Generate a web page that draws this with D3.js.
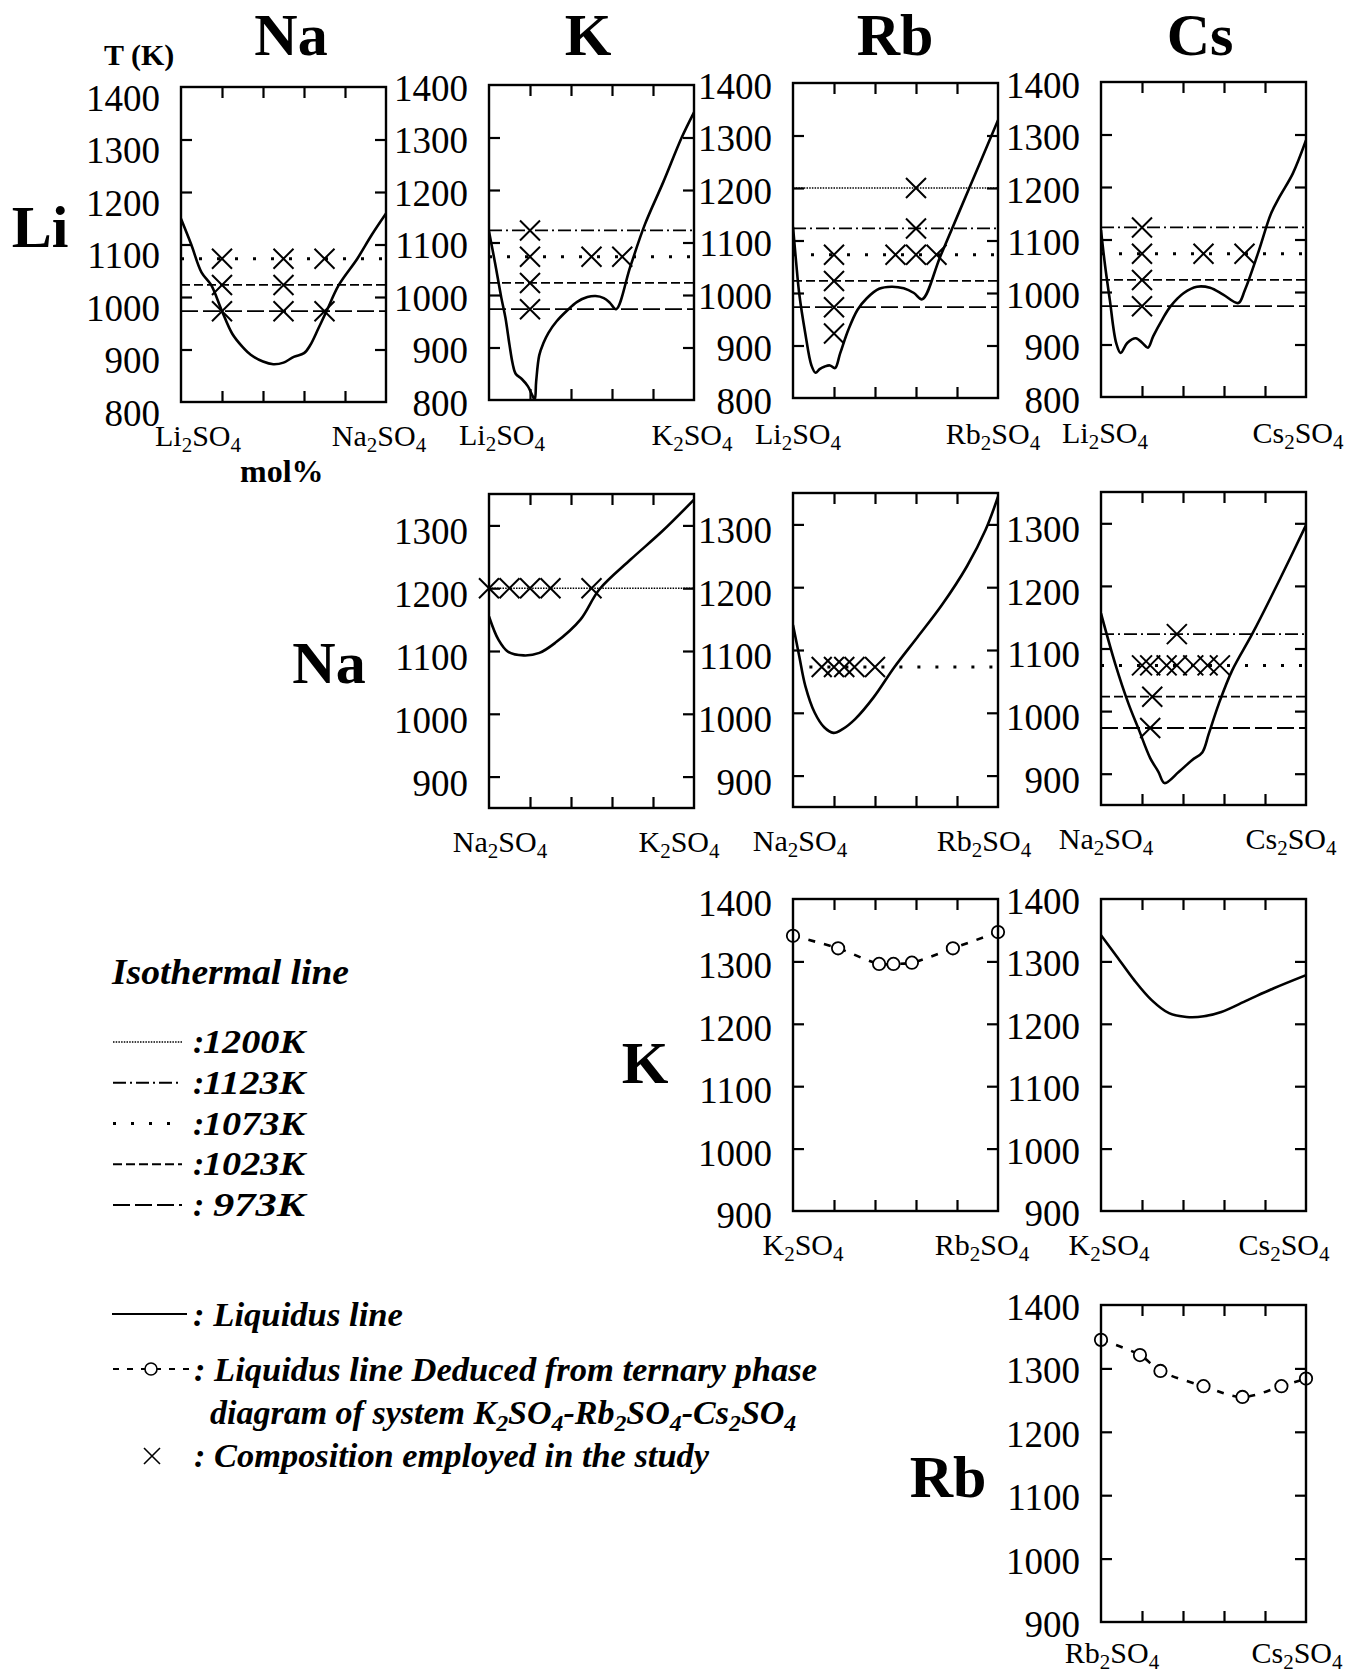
<!DOCTYPE html>
<html>
<head>
<meta charset="utf-8">
<script src="https://d3js.org/d3.v7.min.js"></script>
<style>
    body { margin: 0; background: #fff; }
    svg text { font-family: "Liberation Serif", "Times New Roman", serif; fill: #000; }
</style>
</head>
<body>
<svg width="1358" height="1675"></svg>
<script>
    // ---- data (mol% of the second salt, temperature in K) ----
    var pctTicks = [20, 40, 60, 80];
    var yLabelsLi = [800, 900, 1000, 1100, 1200, 1300, 1400];
    var yLabelsNa = [900, 1000, 1100, 1200, 1300];
    var yLabelsK = [900, 1000, 1100, 1200, 1300, 1400];

    var isoTemps = [1200, 1123, 1073, 1023, 973];
    var isoNames = ["1200K", "1123K", "1073K", "1023K", "973K"];

    var liqLiNa = [[0, 1149], [5, 1100], [10, 1047], [14.7, 1023], [20, 973], [25, 930], [30, 905], [34, 890], [40, 877],
        [45, 872], [50, 875], [55, 886], [60, 893], [63, 908], [67, 940], [71, 973], [77, 1023], [86, 1073], [93, 1118], [100, 1159]];
    var liqLiK = [[0, 1121], [3, 1060], [6, 995], [8, 957], [10, 905], [11.5, 870], [13, 850], [16, 840], [19, 826], [21, 810],
        [22.3, 801], [23, 835], [24.5, 885], [26.5, 908], [29, 928], [33, 950], [38, 970], [43, 987], [48, 996], [52, 998],
        [56, 994], [59, 985], [62, 973], [69, 1055], [76, 1134], [85, 1215], [94, 1300], [100, 1348]];
    var liqLiRb = [[0, 1126], [1.5, 1060], [3, 1000], [6, 923], [9, 862], [11, 848], [13, 855], [15.5, 860], [18, 862],
        [20.5, 857], [23, 885], [27, 930], [31.5, 968], [36, 990], [42, 1008], [48, 1012], [54, 1009], [59, 1000], [63, 988],
        [72, 1071], [86, 1200], [100, 1329]];
    var liqLiCs = [[0, 1118], [2, 1050], [4.3, 985], [7.4, 903], [9.6, 884], [12.8, 903], [17, 912], [20.2, 903], [22.9, 894],
        [25.5, 916], [29.8, 947], [34, 973], [40.4, 998], [46.8, 1010], [53.2, 1008], [59.6, 995], [67, 979], [70.2, 1004],
        [76.6, 1074], [83, 1150], [87.2, 1182], [93.6, 1226], [100, 1289]];
    var liqNaK = [[0, 1155], [4.6, 1118], [9.2, 1099], [16.9, 1093], [24.6, 1097], [32.3, 1113], [44.6, 1150], [53.8, 1198],
        [69.2, 1246], [84.6, 1291], [100, 1341]];
    var liqNaRb = [[0, 1140], [3, 1091], [6, 1043], [10.6, 1000], [15.2, 977], [19.7, 968], [24.2, 974], [30.3, 990],
        [39.4, 1025], [49.5, 1073], [60.6, 1120], [72.7, 1172], [84.8, 1233], [93.9, 1291], [100, 1344]];
    var liqNaCs = [[0, 1156], [6.9, 1076], [13.4, 1012], [18.5, 970], [24, 925], [28, 903], [31, 885], [38, 903], [44.5, 922],
        [49.4, 934], [52.6, 964], [57.5, 1012], [64, 1065], [73.9, 1124], [87, 1209], [100, 1297]];
    var liqKCs = [[0, 1342], [7.7, 1308], [16.2, 1270], [24.7, 1238], [33.2, 1217], [41.7, 1211], [50.2, 1212], [58.7, 1219],
        [71.5, 1238], [84.3, 1257], [100, 1278]];

    var ternKRb = [[0, 1341], [22, 1321], [42, 1296], [49, 1296], [58, 1298], [78, 1321], [100, 1347]];
    var ternRbCs = [[0, 1345], [19, 1321], [29, 1296], [50, 1272], [69, 1255], [88, 1272], [100, 1284]];

    var crossLiNa = [[20, 1073], [20, 1023], [20, 973], [50, 1073], [50, 1023], [50, 973], [70, 1073], [70, 973]];
    var crossLiK = [[20, 1123], [20, 1073], [20, 1023], [20, 973], [50, 1073], [65, 1073]];
    var crossLiRb = [[20, 1073], [20, 1023], [20, 973], [20, 923], [50, 1073], [60, 1200], [60, 1123], [60, 1073], [70, 1073]];
    var crossLiCs = [[20, 1123], [20, 1073], [20, 1023], [20, 973], [50, 1073], [70, 1073]];
    var crossNaK = [[0, 1200], [10, 1200], [20, 1200], [30, 1200], [50, 1200]];
    var crossNaRb = [[14, 1073], [20, 1073], [25, 1073], [30, 1073], [40, 1073]];
    var crossNaCs = [[37, 1123], [20, 1073], [24, 1073], [32, 1073], [37, 1073], [45, 1073], [52, 1073], [58, 1073],
        [25, 1023], [24, 973]];

    // ---- styles ----
    var isoStyle = {
        1200: { dash: "1.5,1.2", w: 1.6 },
        1123: { dash: "13,4,2,4", w: 1.8 },
        1073: { dash: "3,15", w: 3 },
        1023: { dash: "9,4", w: 1.8 },
        973: { dash: "17,5", w: 1.8 }
    };

    var W = 205;
    var panels = [
        { x: 181, y: 87, h: 315, dom: [800, 1400], labs: yLabelsLi, labDy: 11, xl: 44, left: "Li2SO4", right: "Na2SO4", lx: 17, rx: -7, liq: liqLiNa, iso: [1073, 1023, 973], cross: crossLiNa },
        { x: 489, y: 85, h: 315, dom: [800, 1400], labs: yLabelsLi, labDy: 3, xl: 45, left: "Li2SO4", right: "K2SO4", lx: 13, rx: -2, liq: liqLiK, iso: [1123, 1073, 1023, 973], cross: crossLiK },
        { x: 793, y: 83, h: 315, dom: [800, 1400], labs: yLabelsLi, labDy: 3, xl: 46, left: "Li2SO4", right: "Rb2SO4", lx: 5, rx: -5, liq: liqLiRb, iso: [1200, 1123, 1073, 1023, 973], cross: crossLiRb },
        { x: 1101, y: 82, h: 315, dom: [800, 1400], labs: yLabelsLi, labDy: 3, xl: 46, left: "Li2SO4", right: "Cs2SO4", lx: 4, rx: -8, liq: liqLiCs, iso: [1123, 1073, 1023, 973], cross: crossLiCs },
        { x: 489, y: 494, h: 314, dom: [850, 1350], labs: yLabelsNa, labDy: 6, xl: 44, left: "Na2SO4", right: "K2SO4", lx: 11, rx: -15, liq: liqNaK, iso: [1200], cross: crossNaK },
        { x: 793, y: 493, h: 314, dom: [850, 1350], labs: yLabelsNa, labDy: 6, xl: 44, left: "Na2SO4", right: "Rb2SO4", lx: 7, rx: -14, liq: liqNaRb, iso: [1073], isoFrom: 8, cross: crossNaRb },
        { x: 1101, y: 492, h: 313, dom: [850, 1350], labs: yLabelsNa, labDy: 6, xl: 44, left: "Na2SO4", right: "Cs2SO4", lx: 5, rx: -15, liq: liqNaCs, iso: [1123, 1073, 1023, 973], cross: crossNaCs },
        { x: 793, y: 899, h: 312, dom: [900, 1400], labs: yLabelsK, labDy: 4, xl: 44, left: "K2SO4", right: "Rb2SO4", lx: 10, rx: -16, tern: ternKRb },
        { x: 1101, y: 899, h: 312, dom: [900, 1400], labs: yLabelsK, labDy: 2, xl: 44, left: "K2SO4", right: "Cs2SO4", lx: 8, rx: -22, liq: liqKCs },
        { x: 1101, y: 1305, h: 317, dom: [900, 1400], labs: yLabelsK, labDy: 2, xl: 41, left: "Rb2SO4", right: "Cs2SO4", lx: 11, rx: -9, tern: ternRbCs }
    ];

    var svg = d3.select("svg");

    function crossPath(h) {
        return "M" + (-h) + "," + (-h) + "L" + h + "," + h + "M" + (-h) + "," + h + "L" + h + "," + (-h);
    }

    // text with numeric subscripts (K2SO4 -> K₂SO₄)
    function chemText(t, s, size) {
        var parts = s.match(/\D+|\d+/g);
        var low = false;
        var off = size * 0.2;
        parts.forEach(function (p) {
            var ts = t.append("tspan").text(p);
            if (/^\d+$/.test(p)) {
                ts.attr("font-size", size * 0.7).attr("dy", low ? 0 : off);
                low = true;
            } else {
                ts.attr("dy", low ? -off : 0);
                low = false;
            }
        });
        return t;
    }

    panels.forEach(function (p, i) {
        var g = svg.append("g").attr("transform", "translate(" + p.x + "," + p.y + ")");
        var x = d3.scaleLinear().domain([0, 100]).range([0, W]);
        var y = d3.scaleLinear().domain(p.dom).range([p.h, 0]);
        var inner = p.labs.filter(function (v) { return v > p.dom[0] && v < p.dom[1]; });

        g.append("clipPath").attr("id", "clip" + i)
            .append("rect").attr("width", W).attr("height", p.h);

        // isothermal lines
        (p.iso || []).forEach(function (t) {
            g.append("line")
                .attr("x1", x(p.isoFrom || 0)).attr("x2", x(100))
                .attr("y1", y(t)).attr("y2", y(t))
                .attr("stroke", "#000")
                .attr("stroke-width", isoStyle[t].w)
                .attr("stroke-dasharray", isoStyle[t].dash);
        });

        var line = d3.line()
            .x(function (d) { return x(d[0]); })
            .y(function (d) { return y(d[1]); })
            .curve(d3.curveCatmullRom.alpha(0.5));

        if (p.liq) {
            g.append("path").datum(p.liq)
                .attr("clip-path", "url(#clip" + i + ")")
                .attr("fill", "none")
                .attr("stroke", "#000")
                .attr("stroke-width", 2.6)
                .attr("stroke-linejoin", "round")
                .attr("d", line);
        }

        if (p.tern) {
            g.append("path").datum(p.tern)
                .attr("fill", "none")
                .attr("stroke", "#000")
                .attr("stroke-width", 2.6)
                .attr("stroke-dasharray", "7,9")
                .attr("d", line);
            g.selectAll(".tern").data(p.tern).join("circle")
                .attr("class", "tern")
                .attr("cx", function (d) { return x(d[0]); })
                .attr("cy", function (d) { return y(d[1]); })
                .attr("r", 6.2)
                .attr("fill", "#fff")
                .attr("stroke", "#000")
                .attr("stroke-width", 1.8);
        }

        if (p.cross) {
            g.selectAll(".cross").data(p.cross).join("path")
                .attr("class", "cross")
                .attr("transform", function (d) { return "translate(" + x(d[0]) + "," + y(d[1]) + ")"; })
                .attr("d", crossPath(10))
                .attr("fill", "none")
                .attr("stroke", "#000")
                .attr("stroke-width", 2);
        }

        // inward ticks on all four sides
        function ticks(sel) {
            sel.select(".domain").remove();
            sel.selectAll("line").attr("stroke-width", 2.2);
            sel.selectAll("text").remove();
        }
        g.append("g").call(d3.axisLeft(y).tickValues(inner).tickSize(-11)).call(ticks);
        g.append("g").attr("transform", "translate(" + W + ",0)")
            .call(d3.axisRight(y).tickValues(inner).tickSize(-11)).call(ticks);
        g.append("g").call(d3.axisTop(x).tickValues(pctTicks).tickSize(-11)).call(ticks);
        g.append("g").attr("transform", "translate(0," + p.h + ")")
            .call(d3.axisBottom(x).tickValues(pctTicks).tickSize(-11)).call(ticks);

        g.append("rect")
            .attr("width", W).attr("height", p.h)
            .attr("fill", "none")
            .attr("stroke", "#000")
            .attr("stroke-width", 2.4);

        // temperature labels
        g.selectAll(".ylab").data(p.labs).join("text")
            .attr("class", "ylab")
            .attr("x", -21)
            .attr("y", function (d) { return y(d) + p.labDy; })
            .attr("dy", "0.35em")
            .attr("text-anchor", "end")
            .attr("font-size", 37)
            .text(function (d) { return d; });

        // end-member labels
        chemText(g.append("text")
            .attr("x", x(0) + p.lx).attr("y", p.h + p.xl)
            .attr("text-anchor", "middle")
            .attr("font-size", 30), p.left, 30);
        chemText(g.append("text")
            .attr("x", x(100) + p.rx).attr("y", p.h + p.xl)
            .attr("text-anchor", "middle")
            .attr("font-size", 30), p.right, 30);
    });

    // column and row headers
    var big = [
        ["Na", 291, 55], ["K", 588, 55], ["Rb", 895, 55], ["Cs", 1200, 55],
        ["Li", 40, 247], ["Na", 329, 683], ["K", 645, 1083], ["Rb", 948, 1497]
    ];
    big.forEach(function (b) {
        svg.append("text")
            .attr("x", b[1]).attr("y", b[2])
            .attr("text-anchor", "middle")
            .attr("font-size", 60)
            .attr("font-weight", "bold")
            .text(b[0]);
    });

    svg.append("text").attr("x", 104).attr("y", 65)
        .attr("font-size", 30).attr("font-weight", "bold").text("T (K)");
    svg.append("text").attr("x", 240).attr("y", 482)
        .attr("font-size", 32).attr("font-weight", "bold").text("mol%");

    // ---- legend ----
    var leg = svg.append("g")
        .attr("font-weight", "bold")
        .attr("font-style", "italic");

    leg.append("text").attr("x", 112).attr("y", 984)
        .attr("font-size", 36).attr("textLength", 237).attr("lengthAdjust", "spacingAndGlyphs")
        .text("Isothermal line");

    var isoY = d3.scalePoint().domain(isoTemps).range([1042, 1205]);
    isoTemps.forEach(function (t, i) {
        var short = isoNames[i].length < 5;
        leg.append("line")
            .attr("x1", 113).attr("x2", 182)
            .attr("y1", isoY(t)).attr("y2", isoY(t))
            .attr("stroke", "#000")
            .attr("stroke-width", isoStyle[t].w)
            .attr("stroke-dasharray", isoStyle[t].dash);
        leg.append("text").attr("x", 193).attr("y", isoY(t) + 11)
            .attr("font-size", 34).text(":");
        leg.append("text").attr("x", short ? 213 : 203).attr("y", isoY(t) + 11)
            .attr("font-size", 34)
            .attr("textLength", short ? 92 : 102).attr("lengthAdjust", "spacingAndGlyphs")
            .text(isoNames[i]);
    });

    leg.append("line").attr("x1", 112).attr("x2", 187).attr("y1", 1314).attr("y2", 1314)
        .attr("stroke", "#000").attr("stroke-width", 2.2);
    leg.append("text").attr("x", 193).attr("y", 1326)
        .attr("font-size", 34).attr("textLength", 210).attr("lengthAdjust", "spacingAndGlyphs")
        .text(": Liquidus line");

    leg.append("line").attr("x1", 113).attr("x2", 190).attr("y1", 1369).attr("y2", 1369)
        .attr("stroke", "#000").attr("stroke-width", 2).attr("stroke-dasharray", "6,8");
    leg.append("circle").attr("cx", 151).attr("cy", 1369).attr("r", 6)
        .attr("fill", "#fff").attr("stroke", "#000").attr("stroke-width", 1.6);
    leg.append("text").attr("x", 194).attr("y", 1381)
        .attr("font-size", 34).attr("textLength", 623).attr("lengthAdjust", "spacingAndGlyphs")
        .text(": Liquidus line Deduced from ternary phase");
    chemText(leg.append("text").attr("x", 210).attr("y", 1424)
        .attr("font-size", 34), "diagram of system K2SO4-Rb2SO4-Cs2SO4", 34);

    leg.append("path").attr("transform", "translate(152,1456)")
        .attr("d", crossPath(8)).attr("stroke", "#000").attr("stroke-width", 1.6).attr("fill", "none");
    leg.append("text").attr("x", 194).attr("y", 1467)
        .attr("font-size", 34).attr("textLength", 515).attr("lengthAdjust", "spacingAndGlyphs")
        .text(": Composition employed in the study");
</script>
</body>
</html>
